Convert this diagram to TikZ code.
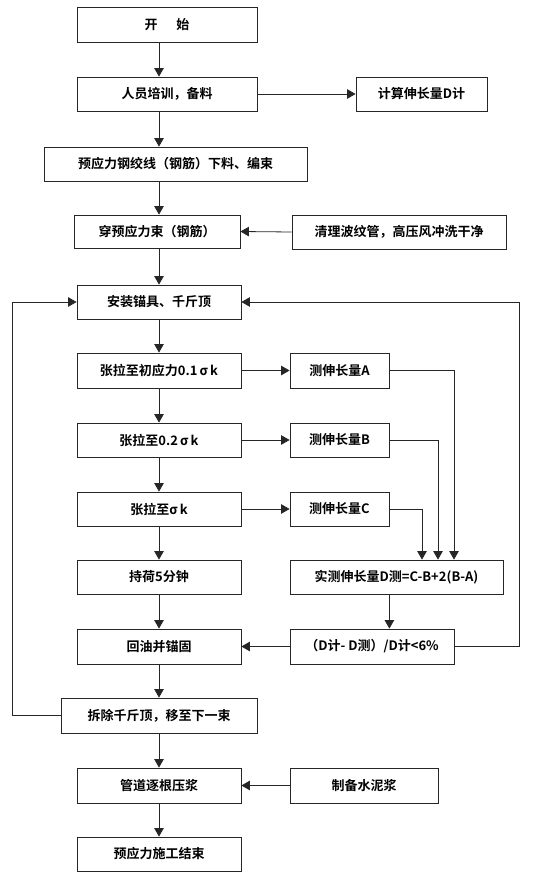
\documentclass[tikz,border=0pt]{standalone}
\usepackage{fontspec}
\setmainfont{Noto Sans CJK SC}[BoldFont={Noto Sans CJK SC Bold}]
\usetikzlibrary{arrows.meta}
\begin{document}
\begin{tikzpicture}[x=1pt,y=-1pt,
  box/.style={draw=black!85,line width=0.8pt,minimum height=34pt,inner sep=0pt,
    font=\fontsize{13pt}{15pt}\selectfont\bfseries},
  arr/.style={draw=black!85,line width=0.8pt,-{Triangle[length=8.5pt,width=9.5pt]}}]
\useasboundingbox (0,0) rectangle (553,883);
\node[box,minimum width=180pt,minimum height=35pt] (start) at (167,24.5) {开\hspace{19pt}始};
\node[box,minimum width=180pt] (train) at (167,94) {人员培训，备料};
\node[box,minimum width=131pt] (calc) at (421.5,94) {计算伸长量D计};
\node[box,minimum width=263pt] (cut) at (175.5,164) {预应力钢绞线（钢筋）下料、编束};
\node[box,minimum width=166pt,minimum height=33pt] (thread) at (157,231.5) {穿预应力束（钢筋）};
\node[box,minimum width=214pt] (clean) at (399,232) {清理波纹管，高压风冲洗干净};
\node[box,minimum width=164pt] (install) at (159,302) {安装锚具、千斤顶};
\node[box,minimum width=164pt,minimum height=35pt] (t1) at (159,370.5) {张拉至初应力0.1\,σ\,k};
\node[box,minimum width=99pt,minimum height=35pt] (mA) at (339.5,370.5) {测伸长量A};
\node[box,minimum width=164pt] (t2) at (159,440) {张拉至0.2\,σ\,k};
\node[box,minimum width=99pt] (mB) at (339.5,440) {测伸长量B};
\node[box,minimum width=164pt] (t3) at (159,509) {张拉至σ\,k};
\node[box,minimum width=99pt] (mC) at (339.5,509) {测伸长量C};
\node[box,minimum width=164pt] (hold) at (159,577) {持荷5分钟};
\node[box,minimum width=213pt] (meas) at (396.5,577) {实测伸长量D测=C-B+2(B-A)};
\node[box,minimum width=164pt,minimum height=35pt] (anchor) at (159,646.5) {回油并锚固};
\node[box,minimum width=164pt,minimum height=35pt] (check) at (372,646.5) {（D计- D测）/D计<6\%};
\node[box,minimum width=196pt,minimum height=35pt] (remove) at (159,715.5) {拆除千斤顶，移至下一束};
\node[box,minimum width=164pt,minimum height=35pt] (grout) at (159,785.5) {管道逐根压浆};
\node[box,minimum width=148pt,minimum height=35pt] (cement) at (364,785.5) {制备水泥浆};
\node[box,minimum width=164pt] (end) at (159,854) {预应力施工结束};
\coordinate (xa) at (454,0);
\coordinate (xb) at (438,0);
\coordinate (xc) at (422,0);
\coordinate (lloop) at (12,0);
\coordinate (rloop) at (519,0);
% main column
\draw[arr] (install.north |- start.south) -- (install.north |- train.north);
\draw[arr] (install.north |- train.south) -- (install.north |- cut.north);
\draw[arr] (install.north |- cut.south) -- (install.north |- thread.north);
\draw[arr] (install.north |- thread.south) -- (install.north);
\draw[arr] (install) -- (t1);
\draw[arr] (t1) -- (t2);
\draw[arr] (t2) -- (t3);
\draw[arr] (t3) -- (hold);
\draw[arr] (hold) -- (anchor);
\draw[arr] (anchor) -- (remove);
\draw[arr] (remove) -- (grout);
\draw[arr] (grout) -- (end);
% side
\draw[arr] (train.east) -- (calc.west);
\draw[arr] (clean.west) -- (thread.east);
\draw[arr] (t1.east) -- (mA.west);
\draw[arr] (t2.east) -- (mB.west);
\draw[arr] (t3.east) -- (mC.west);
\draw[arr] (mA.east) -| (xa |- meas.north);
\draw[arr] (mB.east) -| (xb |- meas.north);
\draw[arr] (mC.east) -| (xc |- meas.north);
\draw[arr] (mA.east |- meas.south) -- (mA.east |- check.north);
\draw[arr] (check.west) -- (anchor.east);
\draw[arr] (check.east) -| (rloop |- install.east) -- (install.east);
\draw[arr] (remove.west) -| (lloop |- install.west) -- (install.west);
\draw[arr] (cement.west) -- (grout.east);
\end{tikzpicture}
\end{document}
